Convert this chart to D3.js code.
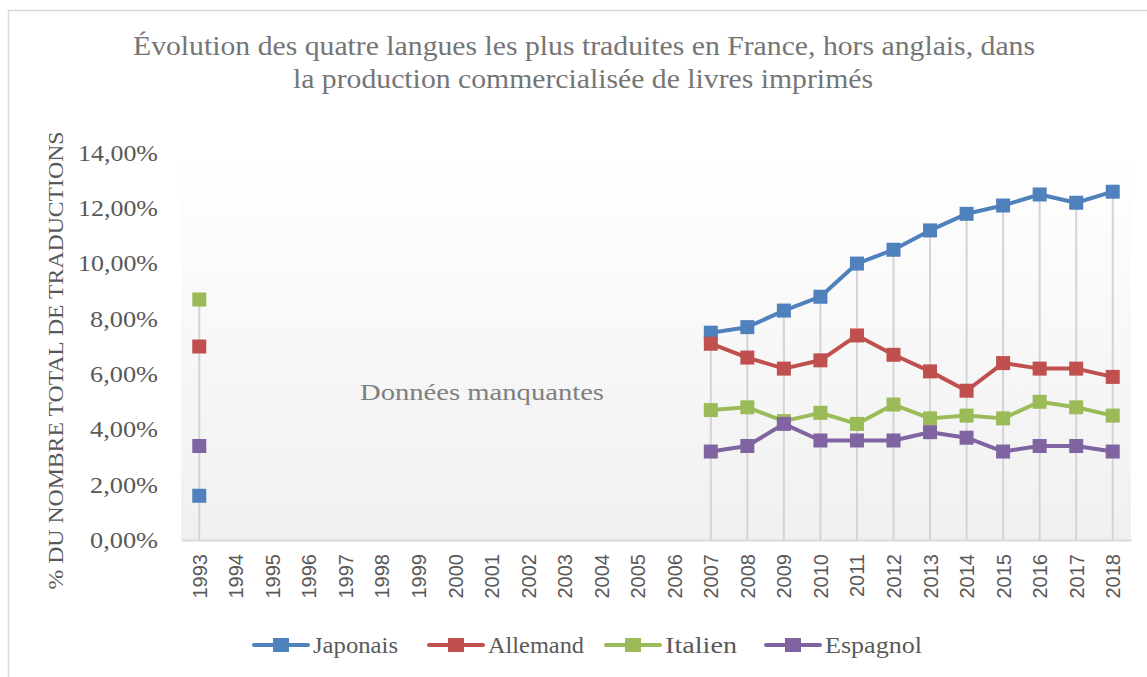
<!DOCTYPE html>
<html>
<head>
<meta charset="utf-8">
<script src="https://cdn.jsdelivr.net/npm/d3@7"></script>
<style>
  body { margin: 0; background: #fff; }
  svg { display: block; }
</style>
</head>
<body>
<div id="chart"></div>
<script>
// Years on the x axis
const years = ["1993", "1994", "1995", "1996", "1997", "1998", "1999", "2000", "2001",
  "2002", "2003", "2004", "2005", "2006", "2007", "2008", "2009", "2010", "2011",
  "2012", "2013", "2014", "2015", "2016", "2017", "2018"];

// Share of all translations (%), null = no data
const japonais = [1.6, null, null, null, null, null, null, null, null, null, null, null, null, null,
  7.5, 7.7, 8.3, 8.8, 10.0, 10.5, 11.2, 11.8, 12.1, 12.5, 12.2, 12.6];
const allemand = [7.0, null, null, null, null, null, null, null, null, null, null, null, null, null,
  7.1, 6.6, 6.2, 6.5, 7.4, 6.7, 6.1, 5.4, 6.4, 6.2, 6.2, 5.9];
const italien = [8.7, null, null, null, null, null, null, null, null, null, null, null, null, null,
  4.7, 4.8, 4.3, 4.6, 4.2, 4.9, 4.4, 4.5, 4.4, 5.0, 4.8, 4.5];
const espagnol = [3.4, null, null, null, null, null, null, null, null, null, null, null, null, null,
  3.2, 3.4, 4.2, 3.6, 3.6, 3.6, 3.9, 3.7, 3.2, 3.4, 3.4, 3.2];

const yTicks = [0, 2, 4, 6, 8, 10, 12, 14];

const series = [
  { name: "Japonais", values: japonais, color: "#4F81BD" },
  { name: "Allemand", values: allemand, color: "#C0504D" },
  { name: "Italien", values: italien, color: "#9BBB59" },
  { name: "Espagnol", values: espagnol, color: "#8064A2" }
];

const width = 1147, height = 677;
const margin = { top: 153, right: 16, bottom: 137, left: 181 };
const serif = "Liberation Serif, serif";

const svg = d3.select("#chart").append("svg")
    .attr("width", width)
    .attr("height", height);

// chart frame
svg.append("rect")
    .attr("x", 8.5).attr("y", 10.5)
    .attr("width", width + 10).attr("height", height + 10)
    .attr("fill", "#fff")
    .attr("stroke", "#d9d9d9")
    .attr("stroke-width", 1.5);

// gradient for plot area
const grad = svg.append("defs").append("linearGradient")
    .attr("id", "bg")
    .attr("x1", 0).attr("y1", 0).attr("x2", 0).attr("y2", 1);
grad.append("stop").attr("offset", "0%").attr("stop-color", "#ffffff");
grad.append("stop").attr("offset", "100%").attr("stop-color", "#f0f0f0");

const x = d3.scalePoint()
    .domain(years)
    .range([margin.left, width - margin.right])
    .padding(0.5);

const y = d3.scaleLinear()
    .domain([0, 14])
    .range([height - margin.bottom, margin.top]);

const fmt = d => d3.format(".2f")(d).replace(".", ",") + "%";

// plot background
svg.append("rect")
    .attr("x", margin.left)
    .attr("y", margin.top)
    .attr("width", width - margin.right - margin.left)
    .attr("height", y(0) - margin.top)
    .attr("fill", "url(#bg)");

// y axis labels
const yAxis = svg.append("g")
    .attr("transform", `translate(${margin.left},0)`)
    .call(d3.axisLeft(y).tickValues(yTicks).tickFormat(fmt).tickSize(0).tickPadding(23));
yAxis.select(".domain").remove();
yAxis.selectAll("text")
    .attr("font-family", serif)
    .attr("font-size", 23)
    .attr("fill", "#595959")
    .attr("textLength", d => d >= 10 ? 80 : 68)
    .attr("lengthAdjust", "spacingAndGlyphs");

// x axis
const xAxis = svg.append("g")
    .attr("transform", `translate(0,${y(0)})`)
    .call(d3.axisBottom(x).tickSize(0));
xAxis.select(".domain")
    .attr("stroke", "#d9d9d9")
    .attr("stroke-width", 2);
xAxis.selectAll("text")
    .attr("font-family", "Liberation Sans, Arial, sans-serif")
    .attr("font-size", 20)
    .attr("fill", "#595959")
    .attr("text-anchor", "end")
    .attr("transform", "rotate(-90)")
    .attr("x", -14)
    .attr("y", 0)
    .attr("dy", "0.35em");

// drop lines from highest point to axis
svg.append("g")
  .selectAll("line")
  .data(years.filter((yr, i) => japonais[i] !== null))
  .join("line")
    .attr("x1", d => x(d)).attr("x2", d => x(d))
    .attr("y1", d => {
      const i = years.indexOf(d);
      return y(d3.max(series, s => s.values[i]));
    })
    .attr("y2", y(0))
    .attr("stroke", "#d4d4d4")
    .attr("stroke-width", 2);

// missing-data note
svg.append("text")
    .attr("x", 482)
    .attr("y", y(5.05))
    .attr("text-anchor", "middle")
    .attr("font-family", serif)
    .attr("font-size", 24)
    .attr("fill", "#7f7f7f")
    .attr("textLength", 244)
    .attr("lengthAdjust", "spacingAndGlyphs")
    .text("Données manquantes");

// series
const line = d3.line()
    .defined(d => d.v !== null)
    .x(d => x(d.year))
    .y(d => y(d.v));

const ms = 14;
series.forEach(s => {
  const pts = years.map((yr, i) => ({ year: yr, v: s.values[i] }));
  svg.append("path")
      .datum(pts)
      .attr("fill", "none")
      .attr("stroke", s.color)
      .attr("stroke-width", 4)
      .attr("stroke-linejoin", "round")
      .attr("d", line);
  svg.append("g")
    .selectAll("rect")
    .data(pts.filter(d => d.v !== null))
    .join("rect")
      .attr("x", d => x(d.year) - ms / 2)
      .attr("y", d => y(d.v) - ms / 2)
      .attr("width", ms)
      .attr("height", ms)
      .attr("fill", s.color);
});

// title
const title = svg.append("text")
    .attr("text-anchor", "middle")
    .attr("font-family", serif)
    .attr("font-size", 27)
    .attr("fill", "#757575");
title.append("tspan").attr("x", 584).attr("y", 55)
    .attr("textLength", 902)
    .attr("lengthAdjust", "spacingAndGlyphs")
    .text("Évolution des quatre langues les plus traduites en France, hors anglais, dans");
title.append("tspan").attr("x", 583).attr("y", 88)
    .attr("textLength", 580)
    .attr("lengthAdjust", "spacingAndGlyphs")
    .text("la production commercialisée de livres imprimés");

// y axis title
svg.append("text")
    .attr("transform", `translate(63,${(margin.top + y(0)) / 2 + 14}) rotate(-90)`)
    .attr("text-anchor", "middle")
    .attr("font-family", serif)
    .attr("font-size", 22)
    .attr("fill", "#595959")
    .attr("textLength", 458)
    .attr("lengthAdjust", "spacingAndGlyphs")
    .text("% DU NOMBRE TOTAL DE TRADUCTIONS");

// legend
const legendX = [254, 429, 606, 766];
const legendW = [85, 96, 72, 97];
const legend = svg.append("g")
  .selectAll("g")
  .data(series)
  .join("g")
    .attr("transform", (d, i) => `translate(${legendX[i]},645)`);
legend.append("line")
    .attr("x1", 0).attr("x2", 54)
    .attr("stroke", d => d.color)
    .attr("stroke-width", 4)
    .attr("stroke-linecap", "round");
legend.append("rect")
    .attr("x", 27 - 8).attr("y", -7)
    .attr("width", 16).attr("height", 14)
    .attr("fill", d => d.color);
legend.append("text")
    .attr("x", 59)
    .attr("dy", "0.35em")
    .attr("font-family", serif)
    .attr("font-size", 24)
    .attr("fill", "#595959")
    .attr("textLength", (d, i) => legendW[i])
    .attr("lengthAdjust", "spacingAndGlyphs")
    .text(d => d.name);
</script>
</body>
</html>
